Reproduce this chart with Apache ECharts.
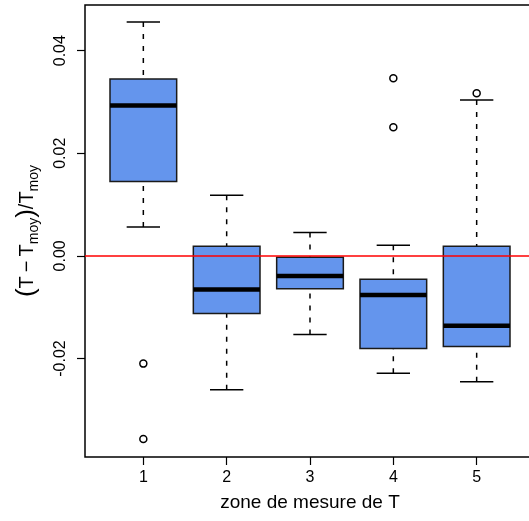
<!DOCTYPE html>
<html><head><meta charset="utf-8">
<script src="https://cdn.jsdelivr.net/npm/echarts@6/dist/echarts.min.js"></script>
<style>html,body{margin:0;padding:0;background:#fff}#c{width:529px;height:521px}</style>
</head><body><div id="c"></div>
<script>
// categories (zones)
const zones = [1, 2, 3, 4, 5];
const xTickLabels = ['1', '2', '3', '4', '5'];
const yTickValues = [-0.02, 0.00, 0.02, 0.04];
// boxplot stats: [lower whisker, Q1, median, Q3, upper whisker]
const lowerWhisker = [0.00565, -0.0261, -0.0153, -0.02286, -0.02455];
const q1Values     = [0.01451, -0.01124, -0.0064, -0.01805, -0.01767];
const medianValues = [0.0293, -0.00656, -0.0039, -0.0076, -0.01364];
const q3Values     = [0.0345, 0.0019, -0.00026, -0.00454, 0.0019];
const upperWhisker = [0.0456, 0.0118, 0.00454, 0.00208, 0.0304];
// outliers: [zone, value]
const outlierZones  = [1, 1, 4, 4, 5];
const outlierValues = [-0.0210, -0.0357, 0.0346, 0.02507, 0.0317];

const boxData = zones.map((z, i) => [z, lowerWhisker[i], q1Values[i], medianValues[i], q3Values[i], upperWhisker[i]]);
const outlierData = outlierZones.map((z, i) => [z, outlierValues[i]]);

const chart = echarts.init(document.getElementById('c'), null, {renderer: 'canvas'});
const FONT = 'Liberation Sans, Arial, sans-serif';

function renderBox(params, api) {
  const x = api.value(0), lo = api.value(1), q1 = api.value(2), md = api.value(3), q3 = api.value(4), hi = api.value(5);
  const hw = 0.4, cw = 0.2;
  const pBL = api.coord([x - hw, q1]), pTR = api.coord([x + hw, q3]);
  const pMdL = api.coord([x - hw, md]), pMdR = api.coord([x + hw, md]);
  const pLo = api.coord([x, lo]), pHi = api.coord([x, hi]);
  const pQ1 = api.coord([x, q1]), pQ3 = api.coord([x, q3]);
  const cL = api.coord([x - cw, md])[0], cR = api.coord([x + cw, md])[0];
  const dash = {stroke: '#000', lineWidth: 1.5, lineDash: [5, 7], fill: null};
  const solid = {stroke: '#000', lineWidth: 1.5, fill: null};
  return {
    type: 'group',
    children: [
      {type: 'line', shape: {x1: pHi[0], y1: pHi[1], x2: pQ3[0], y2: pQ3[1]}, style: dash},
      {type: 'line', shape: {x1: pLo[0], y1: pLo[1], x2: pQ1[0], y2: pQ1[1]}, style: dash},
      {type: 'line', shape: {x1: cL, y1: pHi[1], x2: cR, y2: pHi[1]}, style: solid},
      {type: 'line', shape: {x1: cL, y1: pLo[1], x2: cR, y2: pLo[1]}, style: solid},
      {type: 'rect', shape: {x: pBL[0], y: pTR[1], width: pTR[0] - pBL[0], height: pBL[1] - pTR[1]},
        style: {fill: '#6495ED', stroke: '#1a1a1a', lineWidth: 1.5}},
      {type: 'line', shape: {x1: pMdL[0], y1: pMdL[1], x2: pMdR[0], y2: pMdR[1]}, style: {stroke: '#000', lineWidth: 4.5}}
    ]
  };
}

chart.setOption({
  animation: false,
  backgroundColor: '#fff',
  grid: {left: 85, top: 5, width: 450, height: 452, show: true, borderColor: '#000', borderWidth: 1.5,
    backgroundColor: 'transparent', outerBoundsMode: 'none', containLabel: false},
  xAxis: {
    type: 'value', min: 0.3, max: 5.7,
    splitLine: {show: false},
    axisLine: {show: false, onZero: false},
    axisTick: {show: true, length: 8, inside: false, customValues: zones, lineStyle: {color: '#000', width: 1.2}},
    axisLabel: {customValues: zones, formatter: v => xTickLabels[zones.indexOf(v)], margin: 13, fontSize: 16, color: '#000', fontFamily: FONT},
    name: 'zone de mesure de T', nameLocation: 'middle', nameGap: 36,
    nameTextStyle: {fontSize: 19, color: '#000', fontFamily: FONT}
  },
  yAxis: {
    type: 'value', min: -0.0392, max: 0.0489,
    splitLine: {show: false},
    axisLine: {show: false, onZero: false},
    axisTick: {show: true, length: 8, customValues: yTickValues, lineStyle: {color: '#000', width: 1.2}},
    axisLabel: {customValues: yTickValues, rotate: 90, margin: 16, fontSize: 16, color: '#000', fontFamily: FONT,
      formatter: v => v.toFixed(2)},
    name: '{p|(}T\u2009\u2212\u2009T{s|moy}{p|)}/T{s|moy}', nameLocation: 'middle', nameGap: 58, nameRotate: 90,
    nameTextStyle: {fontSize: 20, color: '#000', fontFamily: FONT, lineHeight: 28, verticalAlign: 'middle',
      rich: {
        p: {fontSize: 26, fontFamily: FONT, color: '#000', lineHeight: 28},
        s: {fontSize: 14, fontFamily: FONT, color: '#000', lineHeight: 14, verticalAlign: 'bottom'}
      }}
  },
  series: [
    {type: 'custom', renderItem: renderBox, data: boxData, encode: {x: 0, y: [1, 2, 3, 4, 5]}, z: 2, silent: true},
    {type: 'scatter', data: outlierData, symbol: 'circle', symbolSize: 7, z: 3, silent: true,
      itemStyle: {color: '#fff', borderColor: '#000', borderWidth: 1.5, opacity: 1},
      markLine: {silent: true, symbol: 'none', label: {show: false}, lineStyle: {color: '#ff0000', width: 1.5, type: 'solid'},
        data: [{yAxis: 0}], z: 5}}
  ]
});
</script></body></html>
